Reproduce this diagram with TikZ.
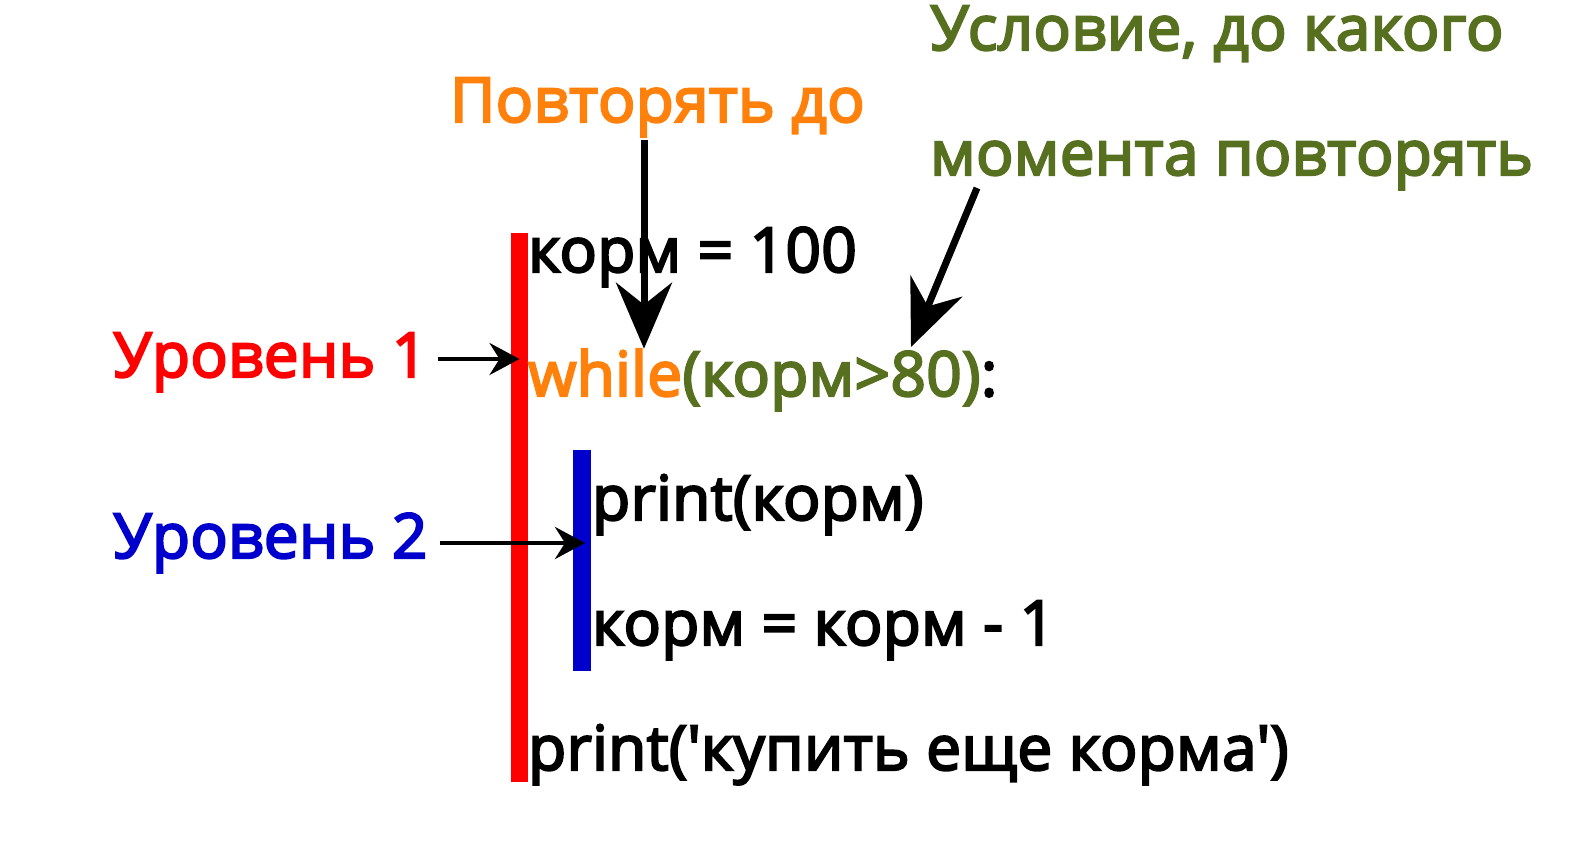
\documentclass[tikz,border=0pt]{standalone}
\usepackage{fontspec}
\setmainfont{Open Sans}
\newfontfamily\semibold{Open Sans}[FakeBold=3.5,LetterSpace=0.6]
\usepackage{xcolor}
\usepackage{tikz}
\usetikzlibrary{arrows.meta,positioning,calc}
\definecolor{lvlred}{RGB}{255,0,0}
\definecolor{lvlblue}{RGB}{0,0,204}
\definecolor{looporange}{RGB}{255,128,10}
\definecolor{condgreen}{RGB}{86,112,32}

\begin{document}
\begin{tikzpicture}[x=1pt,y=-1pt,
		txt/.style={anchor=base west, inner sep=0pt, font=\fontsize{62}{72}\semibold},
		bar/.style={inner sep=0pt, minimum width=17pt},
		small/.style={line width=4pt, -{Stealth[length=30pt,width=32pt,inset=10pt]}},
		big/.style={line width=7pt, -{Stealth[length=66pt,width=56pt,inset=22pt]}}]
		\useasboundingbox (0,0) rectangle (1574,853);

		% levels
		\node[bar, fill=lvlred, minimum height=549pt] (redbar) at (519.5,507.5) {};
		\node[bar, fill=lvlblue, minimum width=18pt, minimum height=221pt] (bluebar) at (582,560.5) {};
		\node[txt, lvlred] (lvl1) at (113,377) {Уровень 1};
		\node[txt, lvlblue] (lvl2) at (113,558) {Уровень 2};

		% code
		\node[txt] (init) at (528,272) {корм = 100};
		\node[txt, looporange] (kw) at (528,396) {while};
		\node[txt, condgreen] (cond) at (kw.base east) {(корм>80)};
		\node[txt] (colon) at (cond.base east) {:};
		\node[txt] (body1) at (592,520) {print(корм)};
		\node[txt] (body2) at (592,645) {корм = корм - 1};
		\node[txt] (after) at (528,770) {print(\textquotesingle купить еще корма\textquotesingle)};

		% notes
		\node[txt, looporange] (rep) at (450,122) {Повторять до};
		\node[txt, condgreen] (note1) at (930,50) {Условие, до какого};
		\node[txt, condgreen] (note2) at (930,175) {момента повторять};

		\coordinate (a1) at ([xshift=10pt,yshift=18pt]lvl1.base east);
		\coordinate (a2) at ([xshift=12pt,yshift=15pt]lvl2.base east);
		\draw[small] (a1) -- (a1 -| redbar.center);
		\draw[small] (a2) -- ([xshift=3pt]a2 -| bluebar.center);

		\coordinate (r1) at (644,140);
		\coordinate (c1) at (977,188);
		\draw[big] (r1) -- (r1 |- kw.north);
		\draw[big] (c1) -- (911,347);
	\end{tikzpicture}
\end{document}
